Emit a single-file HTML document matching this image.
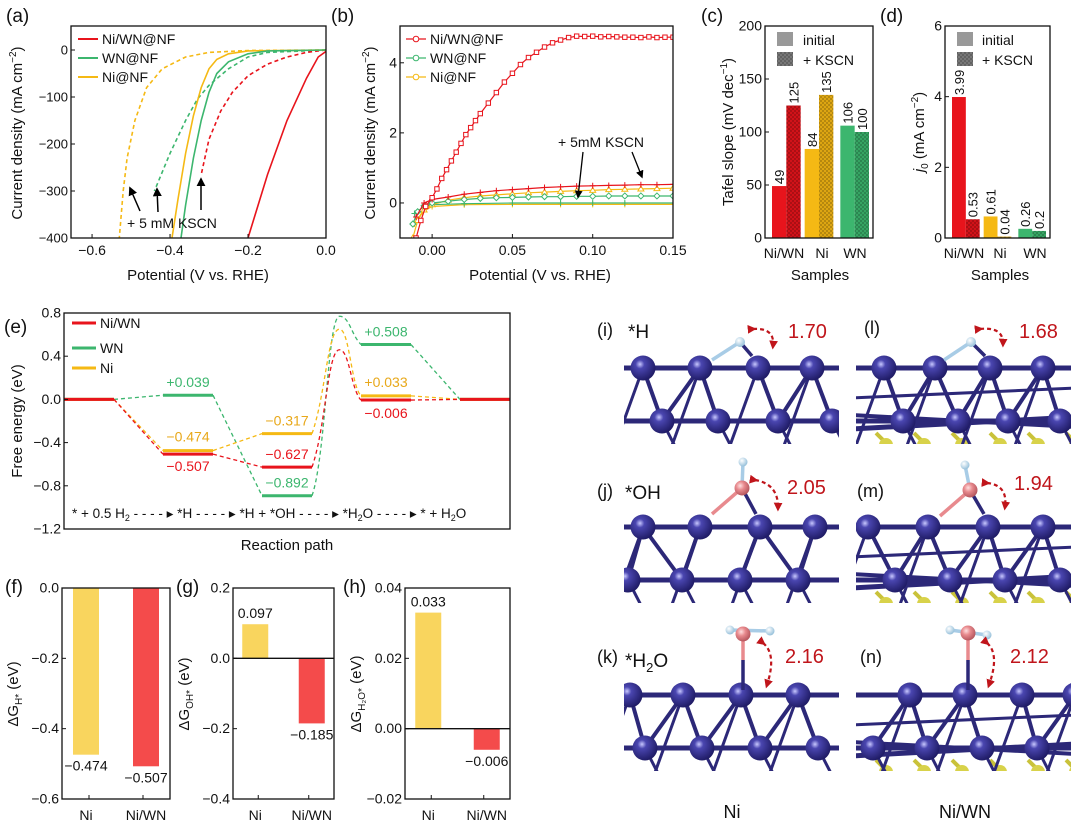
<!DOCTYPE html>
<html><head><meta charset="utf-8">
<style>
html,body{margin:0;padding:0;background:#fff;}
svg{display:block;font-family:"Liberation Sans","Noto Sans CJK SC",sans-serif;}
</style></head>
<body>
<svg id="fig" width="1080" height="834" viewBox="0 0 1080 834" xmlns="http://www.w3.org/2000/svg">
<defs>
<pattern id="hatch" width="4" height="4" patternUnits="userSpaceOnUse"><rect width="4" height="4" fill="rgba(0,0,0,0)"/><rect width="2" height="2" fill="rgba(0,0,0,0.18)"/><rect x="2" y="2" width="2" height="2" fill="rgba(0,0,0,0.18)"/></pattern>
<radialGradient id="atom" cx="0.38" cy="0.35" r="0.7"><stop offset="0" stop-color="#c8c8ff"/><stop offset="0.25" stop-color="#4a46b0"/><stop offset="1" stop-color="#1c1860"/></radialGradient>
<radialGradient id="oat" cx="0.38" cy="0.35" r="0.7"><stop offset="0" stop-color="#ffe0e0"/><stop offset="0.4" stop-color="#e88a8e"/><stop offset="1" stop-color="#b05058"/></radialGradient>
<radialGradient id="hat" cx="0.38" cy="0.35" r="0.7"><stop offset="0" stop-color="#ffffff"/><stop offset="1" stop-color="#8fbcd8"/></radialGradient>
<marker id="arr" viewBox="0 0 10 10" refX="8" refY="5" markerWidth="6" markerHeight="6" orient="auto"><path d="M0,0 L10,5 L0,10 z" fill="#000"/></marker>
<marker id="rarr" viewBox="0 0 10 10" refX="6" refY="5" markerWidth="4" markerHeight="4" orient="auto"><path d="M0,0 L10,5 L0,10 z" fill="#c0151b"/></marker>
</defs>
</svg>
<script>
// ---------- DATA ----------
const aNiWN = [[0,-3],[-0.02,-15],[-0.05,-60],[-0.1,-150],[-0.15,-265],[-0.2,-400]];
const aWN = [[0,0],[-0.15,-2],[-0.2,-8],[-0.25,-25],[-0.28,-50],[-0.3,-90],[-0.32,-150],[-0.34,-230],[-0.36,-330],[-0.372,-400]];
const aNi = [[0,0],[-0.2,-2],[-0.25,-8],[-0.28,-20],[-0.3,-40],[-0.32,-80],[-0.34,-140],[-0.36,-220],[-0.38,-320],[-0.395,-400]];
const aNiWNk = [[0,0],[-0.05,-5],[-0.1,-15],[-0.15,-30],[-0.2,-55],[-0.24,-90],[-0.27,-130],[-0.3,-190],[-0.32,-265]];
const aWNk = [[0,0],[-0.15,-5],[-0.2,-15],[-0.25,-40],[-0.3,-75],[-0.33,-105],[-0.36,-150],[-0.4,-220],[-0.44,-300]];
const aNik = [[0,0],[-0.2,-1],[-0.3,-5],[-0.36,-15],[-0.42,-40],[-0.46,-80],[-0.49,-150],[-0.51,-230],[-0.52,-300],[-0.53,-400]];
const aXTicks = [-0.6,-0.4,-0.2,0.0];
const aYTicks = [0,-100,-200,-300,-400];
const bNiWN = [[-0.01,-1],[-0.007,-0.5],[-0.004,-0.1],[0,0.15],[0.003,0.4],[0.006,0.7],[0.009,0.95],[0.012,1.2],[0.015,1.45],[0.018,1.7],[0.021,1.95],[0.024,2.15],[0.027,2.35],[0.03,2.55],[0.035,2.85],[0.04,3.15],[0.045,3.45],[0.05,3.7],[0.055,3.95],[0.06,4.15],[0.065,4.3],[0.07,4.45],[0.075,4.57],[0.08,4.65],[0.085,4.72],[0.09,4.76],[0.095,4.75],[0.1,4.76],[0.105,4.74],[0.11,4.75],[0.115,4.74],[0.12,4.73],[0.125,4.73],[0.13,4.72],[0.135,4.74],[0.14,4.72],[0.145,4.73],[0.15,4.73]];
const bNiWNk = [[-0.01,-0.4],[-0.005,0.0],[0,0.1],[0.01,0.17],[0.02,0.25],[0.03,0.3],[0.04,0.35],[0.05,0.38],[0.06,0.41],[0.07,0.44],[0.08,0.46],[0.09,0.48],[0.1,0.49],[0.11,0.5],[0.12,0.51],[0.13,0.52],[0.14,0.52],[0.15,0.53]];
const bWN = [[-0.012,-0.6],[-0.009,-0.25],[-0.005,-0.08],[0,0.0],[0.01,0.05],[0.02,0.1],[0.03,0.13],[0.04,0.15],[0.05,0.16],[0.06,0.17],[0.07,0.18],[0.08,0.18],[0.09,0.19],[0.1,0.19],[0.11,0.2],[0.12,0.2],[0.13,0.2],[0.14,0.2],[0.15,0.2]];
const bWNk = [[-0.011,-0.3],[-0.005,-0.1],[0,-0.05],[0.02,-0.02],[0.05,0.0],[0.08,0.0],[0.1,0.0],[0.12,0.0],[0.15,0.0]];
const bNi = [[-0.012,-1],[-0.009,-0.5],[-0.005,-0.2],[0,-0.05],[0.01,0.08],[0.02,0.15],[0.03,0.2],[0.04,0.23],[0.05,0.26],[0.06,0.29],[0.07,0.31],[0.08,0.33],[0.09,0.35],[0.1,0.36],[0.11,0.38],[0.12,0.39],[0.13,0.4],[0.14,0.41],[0.15,0.42]];
const bNik = [[-0.011,-0.6],[-0.006,-0.25],[0,-0.1],[0.02,-0.05],[0.05,-0.04],[0.08,-0.04],[0.1,-0.04],[0.12,-0.04],[0.15,-0.04]];
const bXTicks = [0.00,0.05,0.10,0.15];
const bYTicks = [0,2,4];
const cCats = ["Ni/WN","Ni","WN"];
const cInitial = [49,84,106];
const cKscn = [125,135,100];
const cYTicks = [0,50,100,150,200];
const dInitial = [3.99,0.61,0.26];
const dKscn = [0.53,0.04,0.2];
const dLabI = ["3.99","0.61","0.26"];
const dLabK = ["0.53","0.04","0.2"];
const dYTicks = [0,2,4,6];
const eStages = [0,1,2,3,4];
const eNiWN = [0,-0.507,-0.627,-0.006,0];
const eWN = [0,0.039,-0.892,0.508,0];
const eNi = [0,-0.474,-0.317,0.033,0];
const ePeaks = [0.46,0.77,0.65];
const eYTicks = [0.8,0.4,0.0,-0.4,-0.8,-1.2];
const eYLabels = ["0.8","0.4","0.0","−0.4","−0.8","−1.2"];
const fghCats = ["Ni","Ni/WN"];
const fVals = [-0.474,-0.507];
const gVals = [0.097,-0.185];
const hVals = [0.033,-0.006];
const fTicks = [0,-0.2,-0.4,-0.6], fLabs=["0.0","−0.2","−0.4","−0.6"];
const gTicks = [0.2,0,-0.2,-0.4], gLabs=["0.2","0.0","−0.2","−0.4"];
const hTicks = [0.04,0.02,0,-0.02], hLabs=["0.04","0.02","0.00","−0.02"];

// ---------- HELPERS ----------
const NS="http://www.w3.org/2000/svg";
const svg=document.getElementById('fig');
function el(tag,attrs,name,parent){
  const e=document.createElementNS(NS,tag);
  for(const k in attrs) e.setAttribute(k,attrs[k]);
  
  
  (parent||svg).appendChild(e); return e;
}
function txt(x,y,s,name,opt){
  opt=opt||{};
  const t=el('text',{x:x,y:y,'font-size':opt.fs||13,fill:opt.fill||'#111','text-anchor':opt.anchor||'start'},name,opt.parent);
  if(opt.rot!==undefined) t.setAttribute('transform','rotate('+opt.rot+' '+x+' '+y+')');
  if(opt.html) t.innerHTML=s; else t.textContent=s;
  return t;
}
function lin(d0,d1,r0,r1){return v=>r0+(v-d0)*(r1-r0)/(d1-d0);}
function box(x0,y0,x1,y1,name){el('rect',{x:x0,y:y0,width:x1-x0,height:y1-y0,fill:'none',stroke:'#111','stroke-width':1.3},name);}
function yaxis(ticks,labels,sy,x0,name,fs){
  ticks.forEach((t,i)=>{
    el('line',{x1:x0,x2:x0+4,y1:sy(t),y2:sy(t),stroke:'#111'},name+'-tick');
    txt(x0-3,sy(t)+4.5,labels[i],name+'-label',{anchor:'end',fs:fs||13});
  });
}
function xaxis(ticks,labels,sx,y0,name){
  ticks.forEach((t,i)=>{
    el('line',{x1:sx(t),x2:sx(t),y1:y0,y2:y0-4,stroke:'#111'},name+'-tick');
    txt(sx(t),y0+17,labels[i],name+'-label',{anchor:'middle',fs:14});
  });
}
function poly(pts,sx,sy,color,dash,name,w){
  const d=pts.map((p,i)=>(i?'L':'M')+sx(p[0]).toFixed(1)+','+sy(p[1]).toFixed(1)).join(' ');
  return el('path',{d:d,fill:'none',stroke:color,'stroke-width':w||1.6,'stroke-dasharray':dash||'none'},name);
}
const RED='#e8141c',GRN='#3cb66e',YEL='#f5b914';

// ---------- (a) ----------
{
 const sx=lin(-0.654,0,71,326), sy=lin(0,-400,50,238);
 const cp=el('clipPath',{id:'clipA'},'clip-a'); el('rect',{x:71,y:26,width:255,height:212},'clip-a-rect',cp);
 const g=el('g',{'clip-path':'url(#clipA)'},'panel-a-lines');
 [[aNik,YEL,'4,3','ni-kscn-line'],[aWNk,GRN,'4,3','wn-kscn-line'],[aNiWNk,RED,'4,3','niwn-kscn-line'],[aNi,YEL,null,'ni-line'],[aWN,GRN,null,'wn-line'],[aNiWN,RED,null,'niwn-line']]
  .forEach(s=>g.appendChild(poly(s[0],sx,sy,s[1],s[2],s[3])));
 box(71,26,326,238,'panel-a-axes');
 yaxis(aYTicks,aYTicks.map(v=>v===0?'0':'−'+Math.abs(v)),sy,71,'a-y');
 xaxis(aXTicks,["−0.6","−0.4","−0.2","0.0"],sx,238,'a-x');
 txt(6,22,'(a)','panel-a-label',{fs:19});
 txt(22,133,'Current density (mA cm<tspan dy="-6" font-size="10">−2</tspan><tspan dy="6">)</tspan>','a-y-title',{fs:15,rot:-90,anchor:'middle',html:1});
 txt(198,280,'Potential (V vs. RHE)','a-x-title',{fs:15,anchor:'middle'});
 [['Ni/WN@NF',RED,39],['WN@NF',GRN,58],['Ni@NF',YEL,77]].forEach(l=>{
  el('line',{x1:78,x2:98,y1:l[2],y2:l[2],stroke:l[1],'stroke-width':2},'a-legend-line');
  txt(102,l[2]+5,l[0],'a-legend-entry',{fs:14});
 });
 el('line',{x1:140,y1:211,x2:130,y2:188,stroke:'#000','stroke-width':1.5,'marker-end':'url(#arr)'},'arrow-ni');
 el('line',{x1:158,y1:212,x2:157,y2:189,stroke:'#000','stroke-width':1.5,'marker-end':'url(#arr)'},'arrow-wn');
 el('line',{x1:201,y1:210,x2:201,y2:179,stroke:'#000','stroke-width':1.5,'marker-end':'url(#arr)'},'arrow-niwn');
 txt(127,228,'+ 5 mM KSCN','a-annotation',{fs:14});
}
// ---------- (b) ----------
{
 const sx=lin(-0.02,0.15,400,673), sy=lin(-1,5.05,238,26);
 const cp=el('clipPath',{id:'clipB'},'clip-b'); el('rect',{x:400,y:26,width:273,height:212},'clip-b-rect',cp);
 const g=el('g',{'clip-path':'url(#clipB)'},'panel-b-lines');
 const series=[[bNik,YEL,'plus','ni-kscn'],[bWNk,GRN,'plus','wn-kscn'],[bNi,YEL,'tri','ni'],[bWN,GRN,'dia','wn'],[bNiWNk,RED,'plus','niwn-kscn'],[bNiWN,RED,'sq','niwn']];
 series.forEach(s=>{
  g.appendChild(poly(s[0],sx,sy,s[1],null,s[3]+'-line',1.2));
  s[0].forEach(p=>{
   const x=sx(p[0]),y=sy(p[1]);
   if(s[2]==='sq') el('rect',{x:x-2.2,y:y-2.2,width:4.4,height:4.4,fill:'#fff',stroke:s[1],'stroke-width':1},s[3]+'-marker',g);
   else if(s[2]==='dia') el('path',{d:`M${x},${y-3}L${x+3},${y}L${x},${y+3}L${x-3},${y}Z`,fill:'#fff',stroke:s[1],'stroke-width':1},s[3]+'-marker',g);
   else if(s[2]==='tri') el('path',{d:`M${x},${y-3}L${x+3},${y+2}L${x-3},${y+2}Z`,fill:'#fff',stroke:s[1],'stroke-width':1},s[3]+'-marker',g);
   else el('path',{d:`M${x-3},${y}H${x+3}M${x},${y-3}V${y+3}`,stroke:s[1],'stroke-width':1},s[3]+'-marker',g);
  });
 });
 box(400,26,673,238,'panel-b-axes');
 yaxis(bYTicks,['0','2','4'],sy,400,'b-y',14);
 xaxis(bXTicks,['0.00','0.05','0.10','0.15'],sx,238,'b-x');
 txt(331,22,'(b)','panel-b-label',{fs:19});
 txt(375,133,'Current density (mA cm<tspan dy="-6" font-size="10">−2</tspan><tspan dy="6">)</tspan>','b-y-title',{fs:15,rot:-90,anchor:'middle',html:1});
 txt(540,280,'Potential (V vs. RHE)','b-x-title',{fs:15,anchor:'middle'});
 [['Ni/WN@NF',RED,39],['WN@NF',GRN,58],['Ni@NF',YEL,77]].forEach(l=>{
  el('line',{x1:406,x2:426,y1:l[2],y2:l[2],stroke:l[1],'stroke-width':1.3},'b-legend-line');
  el('circle',{cx:416,cy:l[2],r:2.8,fill:'#fff',stroke:l[1]},'b-legend-marker');
  txt(430,l[2]+5,l[0],'b-legend-entry',{fs:14});
 });
 txt(558,147,'+ 5mM KSCN','b-annotation',{fs:14});
 el('line',{x1:583,y1:152,x2:578,y2:197,stroke:'#000','stroke-width':1.3,'marker-end':'url(#arr)'},'b-arrow-1');
 el('line',{x1:632,y1:152,x2:642,y2:177,stroke:'#000','stroke-width':1.3,'marker-end':'url(#arr)'},'b-arrow-2');
}
// ---------- (c) & (d) ----------
function groupedBars(x0,x1,sy,iv,kv,labI,labK,prefix,colors){
  const groupW=(x1-x0-10)/3;
  iv.forEach((v,i)=>{
    const gx=x0+5+i*groupW+(i===2?3:0);
    const bw=groupW/2-2;
    const yi=sy(v), yk=sy(kv[i]), y0=sy(0);
    el('rect',{x:gx+2,y:yi,width:bw,height:y0-yi,fill:colors[i]},prefix+'-bar-initial-'+i);
    el('rect',{x:gx+2+bw,y:yk,width:bw,height:y0-yk,fill:colors[i],filter:'brightness(0.9)'},prefix+'-bar-kscn-'+i);
    el('rect',{x:gx+2+bw,y:yk,width:bw,height:y0-yk,fill:'url(#hatch)'},prefix+'-bar-kscn-hatch-'+i);
    txt(gx+2+bw/2+5,yi-2,labI[i],prefix+'-value-initial',{rot:-90,fs:13});
    txt(gx+2+1.5*bw+5,yk-2,labK[i],prefix+'-value-kscn',{rot:-90,fs:13});
  });
}
{
 const sy=lin(0,200,238,26);
 groupedBars(765,873,sy,cInitial,cKscn,cInitial.map(String),cKscn.map(String),'c',[RED,YEL,GRN]);
 box(765,26,873,238,'panel-c-axes');
 yaxis(cYTicks,cYTicks.map(String),sy,765,'c-y',14);
 txt(784,258,'Ni/WN','c-x-label',{anchor:'middle',fs:14}); txt(822,258,'Ni','c-x-label',{anchor:'middle',fs:14}); txt(855,258,'WN','c-x-label',{anchor:'middle',fs:14});
 txt(820,280,'Samples','c-x-title',{anchor:'middle',fs:15});
 txt(701,22,'(c)','panel-c-label',{fs:19});
 txt(733,132,'Tafel slope (mV dec<tspan dy="-6" font-size="10">−1</tspan><tspan dy="6">)</tspan>','c-y-title',{fs:15,rot:-90,anchor:'middle',html:1});
 el('rect',{x:777,y:32,width:16,height:14,fill:'#999'},'c-legend-initial-swatch');
 txt(803,45,'initial','c-legend-initial',{fs:14});
 el('rect',{x:777,y:52,width:16,height:14,fill:'#777'},'c-legend-kscn-swatch');
 el('rect',{x:777,y:52,width:16,height:14,fill:'url(#hatch)'},'c-legend-kscn-hatch');
 txt(803,65,'+ KSCN','c-legend-kscn',{fs:14});
}
{
 const sy=lin(0,6,238,26);
 groupedBars(945,1050,sy,dInitial,dKscn,dLabI,dLabK,'d',[RED,YEL,GRN]);
 box(945,26,1050,238,'panel-d-axes');
 yaxis(dYTicks,dYTicks.map(String),sy,945,'d-y',14);
 txt(964,258,'Ni/WN','d-x-label',{anchor:'middle',fs:14}); txt(1000,258,'Ni','d-x-label',{anchor:'middle',fs:14}); txt(1035,258,'WN','d-x-label',{anchor:'middle',fs:14});
 txt(1000,280,'Samples','d-x-title',{anchor:'middle',fs:15});
 txt(880,22,'(d)','panel-d-label',{fs:19});
 txt(924,132,'<tspan font-style="italic">j</tspan><tspan dy="4" font-size="10">0</tspan><tspan dy="-4"> (mA cm</tspan><tspan dy="-6" font-size="10">−2</tspan><tspan dy="6">)</tspan>','d-y-title',{fs:15,rot:-90,anchor:'middle',html:1});
 el('rect',{x:957,y:32,width:16,height:14,fill:'#999'},'d-legend-initial-swatch');
 txt(982,45,'initial','d-legend-initial',{fs:14});
 el('rect',{x:957,y:52,width:16,height:14,fill:'#777'},'d-legend-kscn-swatch');
 el('rect',{x:957,y:52,width:16,height:14,fill:'url(#hatch)'},'d-legend-kscn-hatch');
 txt(982,65,'+ KSCN','d-legend-kscn',{fs:14});
}
// ---------- (e) ----------
{
 const sy=lin(-1.2,0.8,529,313);
 const sx=s=>64+s*99;
 const W=50;
 const ser=[[eWN,GRN,'wn',ePeaks[1]],[eNi,YEL,'ni',ePeaks[2]],[eNiWN,RED,'niwn',ePeaks[0]]];
 ser.forEach(s=>{
  const v=s[0];
  for(let i=0;i<4;i++){
    const xa=sx(i)+W, xb=sx(i+1);
    if(i===2){
      const px=(xa+xb)/2+3, py=sy(s[3]);
      el('path',{d:`M${xa},${sy(v[i])} C${xa+14},${sy(v[i])-40} ${px-12},${py} ${px},${py} C${px+10},${py} ${xb-10},${sy(v[i+1])-10} ${xb},${sy(v[i+1])}`,fill:'none',stroke:s[1],'stroke-width':1.3,'stroke-dasharray':'4,3'},'e-'+s[2]+'-transition');
    } else {
      el('line',{x1:xa,y1:sy(v[i]),x2:xb,y2:sy(v[i+1]),stroke:s[1],'stroke-width':1.3,'stroke-dasharray':'4,3'},'e-'+s[2]+'-connector');
    }
  }
  eStages.forEach(i=>{
    el('line',{x1:sx(i),x2:sx(i)+W,y1:sy(v[i]),y2:sy(v[i]),stroke:s[1],'stroke-width':3},'e-'+s[2]+'-level');
  });
 });
 const lab=(v,c,i,dy)=>txt(sx(i)+W/2,sy(v)+dy,(v>0?'+':'−')+Math.abs(v).toFixed(3),'e-value-label',{anchor:'middle',fill:c,fs:14});
 lab(eWN[1],GRN,1,-8); lab(eNi[1],'#e8a81a',1,-9); lab(eNiWN[1],RED,1,17);
 lab(eNi[2],'#e8a81a',2,-8); lab(eNiWN[2],RED,2,-8); lab(eWN[2],GRN,2,-8);
 lab(eWN[3],GRN,3,-8); lab(eNi[3],'#e8a81a',3,-9); lab(eNiWN[3],RED,3,18);
 box(64,313,510,529,'panel-e-axes');
 yaxis(eYTicks,eYLabels,sy,64,'e-y',14);
 txt(4,333,'(e)','panel-e-label',{fs:19});
 txt(22,421,'Free energy (eV)','e-y-title',{fs:15,rot:-90,anchor:'middle'});
 txt(287,550,'Reaction path','e-x-title',{fs:15,anchor:'middle'});
 [['Ni/WN',RED,323],['WN',GRN,348],['Ni',YEL,368]].forEach(l=>{
  el('line',{x1:72,x2:96,y1:l[2],y2:l[2],stroke:l[1],'stroke-width':3},'e-legend-line');
  txt(100,l[2]+5,l[0],'e-legend-entry',{fs:14});
 });
 txt(72,518,'* + 0.5 H<tspan dy="3" font-size="9">2</tspan><tspan dy="-3"> - - - - ▸ *H - - - - ▸ *H + *OH - - - - ▸ *H</tspan><tspan dy="3" font-size="9">2</tspan><tspan dy="-3">O - - - - ▸ * + H</tspan><tspan dy="3" font-size="9">2</tspan><tspan dy="-3">O</tspan>','e-path-steps',{fs:13.5,html:1});
}
// ---------- (f)(g)(h) ----------
function small(x0,x1,sy,vals,ticks,labs,prefix,label,lx,ytitle,zero){
  const cw=(x1-x0)/2;
  vals.forEach((v,i)=>{
    const cx=x0+cw*(i+0.5)+(i?3:-3);
    const y0=sy(0), yv=sy(v);
    el('rect',{x:cx-13,y:Math.min(y0,yv),width:26,height:Math.abs(yv-y0),fill:i?'#f44b4b':'#f9d55e'},prefix+'-bar-'+fghCats[i]);
    const s=(v<0?'−':'')+Math.abs(v).toFixed(3);
    txt(cx,v<0?yv+16:yv-6,s,prefix+'-value',{anchor:'middle',fs:14});
    txt(cx,820,fghCats[i],prefix+'-x-label',{anchor:'middle',fs:14});
    el('line',{x1:x0+cw*(i+0.5),x2:x0+cw*(i+0.5),y1:799,y2:795,stroke:'#111'},prefix+'-x-tick');
  });
  if(zero) el('line',{x1:x0,x2:x1,y1:sy(0),y2:sy(0),stroke:'#111','stroke-width':1.3},prefix+'-zero-line');
  box(x0,588,x1,799,prefix+'-axes');
  yaxis(ticks,labs,sy,x0,prefix+'-y',14);
  txt(lx,593,label,prefix+'-panel-label',{fs:19});
  txt(x0-44,694,ytitle,prefix+'-y-title',{fs:15,rot:-90,anchor:'middle',html:1});
}
small(62,170,lin(-0.6,0,799,588),fVals,fTicks,fLabs,'f','(f)',5,'ΔG<tspan dy="4" font-size="10">H*</tspan><tspan dy="-4"> (eV)</tspan>',false);
small(233,334,lin(-0.4,0.2,799,588),gVals,gTicks,gLabs,'g','(g)',176,'ΔG<tspan dy="4" font-size="10">OH*</tspan><tspan dy="-4"> (eV)</tspan>',true);
small(405,510,lin(-0.02,0.04,799,588),hVals,hTicks,hLabs,'h','(h)',343,'ΔG<tspan dy="4" font-size="10">H₂O*</tspan><tspan dy="-4"> (eV)</tspan>',true);

// ---------- atomic structures ----------
function slab(x0,T,top,low,id,ws){
  const cp=el('clipPath',{id:'cl'+id},'clip-'+id); el('rect',{x:x0,y:T-30,width:215,height:106},'clip-rect',cp);
  const g=el('g',{'clip-path':'url(#cl'+id+')'},'slab-'+id);
  const L=T+53;
  const bond=(a,b,c,d,w)=>el('line',{x1:a,y1:b,x2:c,y2:d,stroke:'#2c2878','stroke-width':w||4},'bond',g);
  if(ws){
    for(let k=0;k<6;k++){ el('line',{x1:x0+20+k*38,y1:L+12,x2:x0+34+k*38,y2:L+26,stroke:'#c9c23a','stroke-width':4},'wn-bond',g);
      el('circle',{cx:x0+30+k*38,cy:L+24,r:7,fill:'#d8d24a'},'w-atom',g);}
    bond(x0-5,L+8,x0+220,L-4,5); bond(x0-5,L-6,x0+220,L+6,4); bond(x0-5,T+30,x0+220,T+20,3);
  }
  bond(x0-5,T,x0+220,T,5); bond(x0-5,L,x0+220,L,5);
  top.forEach((tx)=>{ low.forEach(lx=>{ if(Math.abs(tx-lx)<40) bond(tx,T,lx,L,4); }); bond(tx,T,tx-30,L+30,3); });
  low.forEach(lx=>bond(lx,L,lx+18,L+35,3));
  low.forEach(lx=>el('circle',{cx:lx,cy:L,r:12.5,fill:'url(#atom)'},'metal-atom',g));
  top.forEach(tx=>el('circle',{cx:tx,cy:T,r:12.5,fill:'url(#atom)'},'metal-atom',g));
}
slab(624,368,[643,700,758,812],[662,718,778,832],'i',false);
slab(624,527,[643,700,760,815],[628,682,740,798],'j',false);
slab(624,695,[630,683,741,798],[645,702,760,818],'k',false);
slab(856,368,[884,935,990,1043],[903,958,1008,1060],'l',true);
slab(856,527,[868,928,988,1043],[895,950,1005,1060],'m',true);
slab(856,695,[910,965,1022,1075],[873,927,982,1037],'n',true);
function ads(pts,bonds,name){
  bonds.forEach(b=>el('line',{x1:b[0],y1:b[1],x2:b[2],y2:b[3],stroke:b[4],'stroke-width':3.5},name+'-bond'));
  pts.forEach(p=>el('circle',{cx:p[0],cy:p[1],r:p[2],fill:p[3]},name+'-atom'));
}
ads([[740,342,5,'url(#hat)']],[[712,360,740,342,'#a8cce6'],[740,342,752,356,'#2c2878']],'h-ads-ni');
ads([[971,342,5,'url(#hat)']],[[944,360,971,342,'#a8cce6'],[971,342,985,356,'#2c2878']],'h-ads-niwn');
ads([[743,462,4.5,'url(#hat)'],[742,488,7.5,'url(#oat)']],[[743,462,742,488,'#a8cce6'],[742,488,712,514,'#e88a8e'],[742,488,756,514,'#2c2878']],'oh-ads-ni');
ads([[965,465,4.5,'url(#hat)'],[970,490,7.5,'url(#oat)']],[[965,465,970,490,'#a8cce6'],[970,490,940,516,'#e88a8e'],[970,490,984,514,'#2c2878']],'oh-ads-niwn');
ads([[730,630,4.5,'url(#hat)'],[770,631,4.5,'url(#hat)'],[743,634,7.5,'url(#oat)']],[[730,630,770,631,'#a8cce6'],[743,634,743,660,'#e88a8e'],[743,660,743,690,'#2c2878']],'h2o-ads-ni');
ads([[950,630,4.5,'url(#hat)'],[987,635,4.5,'url(#hat)'],[968,633,7.5,'url(#oat)']],[[950,630,987,635,'#a8cce6'],[968,633,968,660,'#e88a8e'],[968,660,968,690,'#2c2878']],'h2o-ads-niwn');
function dist(x,y,ax1,ay1,ax2,ay2,s,name){
  el('path',{d:`M${ax1},${ay1} Q${(ax1+ax2)/2+12},${(ay1+ay2)/2-10} ${ax2},${ay2}`,fill:'none',stroke:'#c0151b','stroke-width':2.2,'stroke-dasharray':'4,3','marker-start':'url(#rarr)','marker-end':'url(#rarr)'},name+'-arrow');
  txt(x,y,s,name+'-value',{fs:20,fill:'#c0151b'});
}
dist(788,338,753,329,773,346,'1.70','dist-i');
dist(1019,338,980,329,1003,344,'1.68','dist-l');
dist(787,494,755,480,778,508,'2.05','dist-j');
dist(1014,490,987,483,1005,507,'1.94','dist-m');
dist(785,663,763,643,767,685,'2.16','dist-k');
dist(1010,663,987,643,989,685,'2.12','dist-n');
txt(597,336,'(i)','panel-i-label',{fs:18}); txt(628,338,'*H','panel-i-title',{fs:19});
txt(864,334,'(l)','panel-l-label',{fs:18});
txt(597,497,'(j)','panel-j-label',{fs:18}); txt(625,499,'*OH','panel-j-title',{fs:19});
txt(857,497,'(m)','panel-m-label',{fs:18});
txt(597,663,'(k)','panel-k-label',{fs:18}); txt(625,667,'*H<tspan dy="5" font-size="13">2</tspan><tspan dy="-5">O</tspan>','panel-k-title',{fs:19,html:1});
txt(860,663,'(n)','panel-n-label',{fs:18});
txt(732,818,'Ni','col-label-ni',{fs:18,anchor:'middle'});
txt(965,818,'Ni/WN','col-label-niwn',{fs:18,anchor:'middle'});
</script>
</body></html>
